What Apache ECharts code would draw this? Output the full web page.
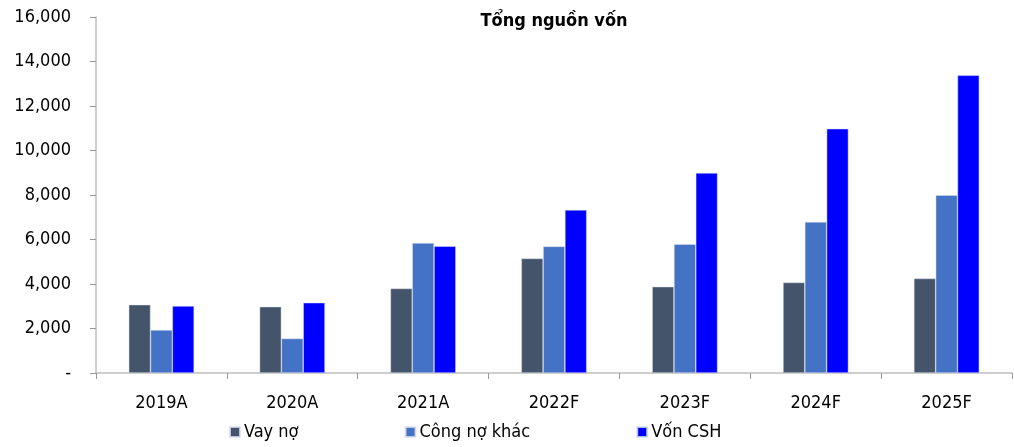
<!DOCTYPE html>
<html><head><meta charset="utf-8">
<script src="https://cdn.jsdelivr.net/npm/echarts@6/dist/echarts.min.js"></script>
<style>html,body{margin:0;padding:0;background:#fff}#c{width:1014px;height:447px}</style>
</head><body><div id="c"></div>
<script>
const categories = ['2019A','2020A','2021A','2022F','2023F','2024F','2025F'];
const vayNo = [3070, 2980, 3800, 5150, 3880, 4070, 4250];
const congNoKhac = [1930, 1550, 5840, 5690, 5790, 6790, 7990];
const vonCSH = [3010, 3160, 5700, 7330, 8990, 10980, 13380];
const seriesNames = ['Vay nợ', 'Công nợ khác', 'Vốn CSH'];
const colors = ['#44546A', '#4472C4', '#0000FF'];
const titleText = 'Tổng nguồn vốn';

const FONT = '"DejaVu Sans Condensed", "DejaVu Sans", sans-serif';
const chart = echarts.init(document.getElementById('c'));
const mk = (name, data, i) => ({
  name, type: 'bar', data, barGap: '0%', barCategoryGap: '50%',
  itemStyle: { color: colors[i], borderColor: 'rgba(220,225,240,0.8)', borderWidth: 0.6 }
});
chart.setOption({
  animation: false,
  title: { text: titleText, left: 554, textAlign: 'center', top: 12, padding: 0,
    textStyle: { fontFamily: FONT, fontSize: 18, fontWeight: 'bold', color: '#000' } },
  grid: { left: 96, right: 2, top: 17, bottom: 74 },
  legend: {
    left: 229, top: 423, padding: 0, itemGap: 106, itemWidth: 10, itemHeight: 10, icon: 'rect',
    textStyle: { fontFamily: FONT, fontSize: 18, color: '#000', padding: [0,0,0,-1] },
    data: seriesNames
  },
  xAxis: {
    type: 'category', data: categories,
    axisLine: { lineStyle: { color: '#BFBFBF', width: 1.5 } },
    axisTick: { show: true, length: 6, lineStyle: { color: '#999' } },
    axisLabel: { fontFamily: FONT, fontSize: 18, color: '#000', margin: 21 }
  },
  yAxis: {
    type: 'value', min: 0, max: 16000, interval: 2000,
    splitLine: { show: false },
    axisLine: { show: true, lineStyle: { color: '#BFBFBF', width: 1.5 } },
    axisTick: { show: true, length: 6, lineStyle: { color: '#999' } },
    axisLabel: { fontFamily: FONT, fontSize: 18, color: '#000', margin: 25,
      formatter: v => v === 0 ? '-' : v.toLocaleString('en-US') }
  },
  series: [mk(seriesNames[0], vayNo, 0), mk(seriesNames[1], congNoKhac, 1), mk(seriesNames[2], vonCSH, 2)]
});
</script></body></html>
